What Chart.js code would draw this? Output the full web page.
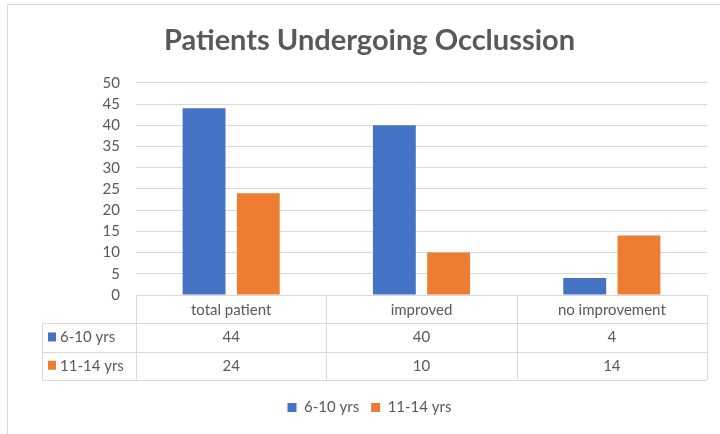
<!DOCTYPE html>
<html lang="en">
<head>
    <meta charset="UTF-8">
    <title>Patients Undergoing Occlussion</title>
    <style>
        html, body { margin: 0; padding: 0; background: #fff; overflow: hidden; }
        #wrap { width: 720px; height: 434px; position: relative; }
    </style>
</head>
<body>
    <div id="wrap"><canvas id="occChart" width="720" height="434"></canvas></div>

    <script src="https://cdn.jsdelivr.net/npm/chart.js"></script>
    <script>
// data
const categories = ['total patient', 'improved', 'no improvement'];
const seriesNames = ['6-10 yrs', '11-14 yrs'];
const young = [44, 40, 4];
const older = [24, 10, 14];
const yTicks = [0, 5, 10, 15, 20, 25, 30, 35, 40, 45, 50];

const BLUE = '#4472c4';
const ORANGE = '#ed7d31';
const GRID = '#d9d9d9';
const TEXT = '#595959';
const FONT = 'Lato, "Open Sans", sans-serif';
const ROW_H = 28.3;

// excel style data table under the plot
const dataTable = {
    id: 'dataTable',
    beforeDraw(chart) {
        const ctx = chart.ctx;
        ctx.save();
        ctx.strokeStyle = GRID;
        ctx.lineWidth = 1;
        ctx.strokeRect(7.5, 4.5, 730, 450);
        ctx.restore();
    },
    afterDraw(chart) {
        const ctx = chart.ctx;
        const x = chart.scales.x;
        const top = chart.chartArea.bottom;
        const left = x.left, right = x.right;
        const colW = (right - left) / categories.length;
        const tableLeft = 42;
        const rows = [young, older];
        const colors = [BLUE, ORANGE];

        ctx.save();
        ctx.strokeStyle = GRID;
        ctx.lineWidth = 1;
        ctx.beginPath();
        for (let r = 1; r <= 3; r++) {
            const y = Math.round(top + r * ROW_H) + 0.5;
            ctx.moveTo(tableLeft, y);
            ctx.lineTo(right, y);
        }
        for (let c = 0; c <= categories.length; c++) {
            const xx = Math.round(left + c * colW) + 0.5;
            ctx.moveTo(xx, top);
            ctx.lineTo(xx, top + 3 * ROW_H);
        }
        ctx.moveTo(tableLeft + 0.5, top + ROW_H);
        ctx.lineTo(tableLeft + 0.5, top + 3 * ROW_H);
        ctx.stroke();

        ctx.font = '15px ' + FONT;
        ctx.textBaseline = 'middle';
        rows.forEach((vals, r) => {
            const cy = top + (r + 1.5) * ROW_H;
            ctx.fillStyle = colors[r];
            ctx.fillRect(tableLeft + 6, cy - 5, 8, 9);
            ctx.fillStyle = TEXT;
            ctx.textAlign = 'left';
            ctx.fillText(seriesNames[r], tableLeft + 18, cy);
            ctx.textAlign = 'center';
            vals.forEach((v, i) => {
                ctx.fillText(String(v), x.getPixelForValue(i), cy);
            });
        });
        ctx.restore();
    }
};

const ctx = document.getElementById('occChart').getContext('2d');
new Chart(ctx, {
    type: 'bar',
    data: {
        labels: categories,
        datasets: [
            { label: seriesNames[0], data: young, backgroundColor: BLUE, categoryPercentage: 0.57, barPercentage: 0.79 },
            { label: seriesNames[1], data: older, backgroundColor: ORANGE, categoryPercentage: 0.57, barPercentage: 0.79 }
        ]
    },
    options: {
        responsive: false,
        animation: false,
        layout: { padding: { left: 32, right: 13, top: 0, bottom: 9 } },
        plugins: {
            title: {
                display: true,
                text: 'Patients Undergoing Occlussion',
                color: TEXT,
                font: { family: FONT, size: 29, weight: 'bold' },
                padding: { top: 23, bottom: 25 }
            },
            legend: {
                position: 'bottom',
                labels: {
                    color: TEXT,
                    font: { family: FONT, size: 15 },
                    boxWidth: 9,
                    boxHeight: 9,
                    padding: 12
                }
            },
            tooltip: { enabled: false }
        },
        scales: {
            x: {
                grid: { display: false, drawTicks: false },
                border: { color: GRID },
                ticks: { color: TEXT, font: { family: FONT, size: 15 }, padding: 6 },
                afterFit(scale) { scale.height = 93; }
            },
            y: {
                min: 0,
                max: 50,
                afterBuildTicks(scale) { scale.ticks = yTicks.map(v => ({ value: v })); },
                grid: { color: GRID, drawTicks: false },
                border: { display: false },
                ticks: { color: TEXT, font: { family: FONT, size: 15 }, padding: 16 },
                afterFit(scale) { scale.width = 104; }
            }
        }
    },
    plugins: [dataTable]
});
    </script>
</body>
</html>
